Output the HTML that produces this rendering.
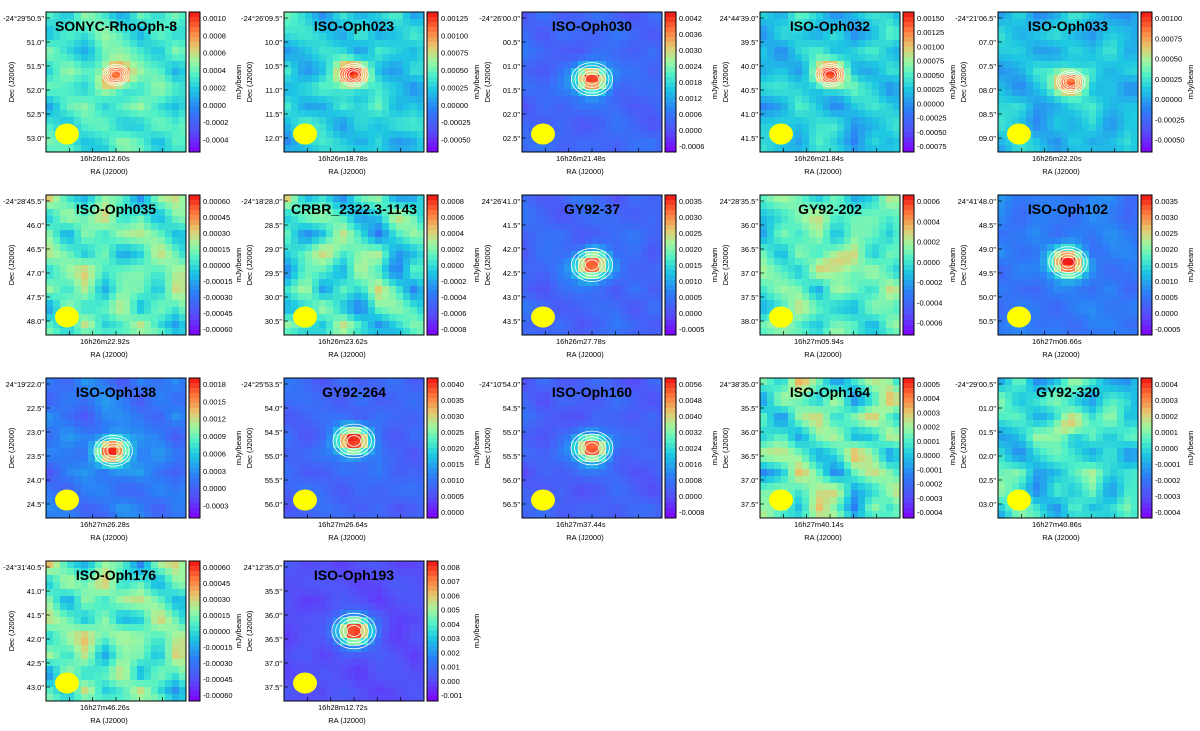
<!DOCTYPE html>
<html><head><meta charset="utf-8"><style>
body{margin:0;background:#fff;width:1200px;height:726px;overflow:hidden;font-family:"Liberation Sans",sans-serif}
svg text{font-family:"Liberation Sans",sans-serif}
</style></head><body>
<svg id="fig" width="1200" height="726" xmlns="http://www.w3.org/2000/svg"></svg>
<script>
const names=["SONYC-RhoOph-8","ISO-Oph023","ISO-Oph030","ISO-Oph032","ISO-Oph033","ISO-Oph035","CRBR_2322.3-1143","GY92-37","GY92-202","ISO-Oph102","ISO-Oph138","GY92-264","ISO-Oph160","ISO-Oph164","GY92-320","ISO-Oph176","ISO-Oph193"];
const raLabels=["16h26m12.60s","16h26m18.78s","16h26m21.48s","16h26m21.84s","16h26m22.20s","16h26m22.92s","16h26m23.62s","16h26m27.78s","16h27m05.94s","16h27m06.66s","16h27m26.28s","16h27m26.64s","16h27m37.44s","16h27m40.14s","16h27m40.86s","16h27m46.26s","16h28m12.72s"];
const decLabels=[
["-24°29'50.5\"","51.0\"","51.5\"","52.0\"","52.5\"","53.0\""],
["-24°26'09.5\"","10.0\"","10.5\"","11.0\"","11.5\"","12.0\""],
["-24°26'00.0\"","00.5\"","01.0\"","01.5\"","02.0\"","02.5\""],
["24°44'39.0\"","39.5\"","40.0\"","40.5\"","41.0\"","41.5\""],
["-24°21'06.5\"","07.0\"","07.5\"","08.0\"","08.5\"","09.0\""],
["-24°28'45.5\"","46.0\"","46.5\"","47.0\"","47.5\"","48.0\""],
["-24°18'28.0\"","28.5\"","29.0\"","29.5\"","30.0\"","30.5\""],
["24°26'41.0\"","41.5\"","42.0\"","42.5\"","43.0\"","43.5\""],
["24°28'35.5\"","36.0\"","36.5\"","37.0\"","37.5\"","38.0\""],
["24°41'48.0\"","48.5\"","49.0\"","49.5\"","50.0\"","50.5\""],
["24°19'22.0\"","22.5\"","23.0\"","23.5\"","24.0\"","24.5\""],
["-24°25'53.5\"","54.0\"","54.5\"","55.0\"","55.5\"","56.0\""],
["-24°10'54.0\"","54.5\"","55.0\"","55.5\"","56.0\"","56.5\""],
["24°38'35.0\"","35.5\"","36.0\"","36.5\"","37.0\"","37.5\""],
["-24°29'00.5\"","01.0\"","01.5\"","02.0\"","02.5\"","03.0\""],
["-24°31'40.5\"","41.0\"","41.5\"","42.0\"","42.5\"","43.0\""],
["24°12'35.0\"","35.5\"","36.0\"","36.5\"","37.0\"","37.5\""]];
const cbTicks=[
["0.0010","0.0008","0.0006","0.0004","0.0002","0.0000","-0.0002","-0.0004"],
["0.00125","0.00100","0.00075","0.00050","0.00025","0.00000","-0.00025","-0.00050"],
["0.0042","0.0036","0.0030","0.0024","0.0018","0.0012","0.0006","0.0000","-0.0006"],
["0.00150","0.00125","0.00100","0.00075","0.00050","0.00025","0.00000","-0.00025","-0.00050","-0.00075"],
["0.00100","0.00075","0.00050","0.00025","0.00000","-0.00025","-0.00050"],
["0.00060","0.00045","0.00030","0.00015","0.00000","-0.00015","-0.00030","-0.00045","-0.00060"],
["0.0008","0.0006","0.0004","0.0002","0.0000","-0.0002","-0.0004","-0.0006","-0.0008"],
["0.0035","0.0030","0.0025","0.0020","0.0015","0.0010","0.0005","0.0000","-0.0005"],
["0.0006","0.0004","0.0002","0.0000","-0.0002","-0.0004","-0.0006"],
["0.0035","0.0030","0.0025","0.0020","0.0015","0.0010","0.0005","0.0000","-0.0005"],
["0.0018","0.0015","0.0012","0.0009","0.0006","0.0003","0.0000","-0.0003"],
["0.0040","0.0035","0.0030","0.0025","0.0020","0.0015","0.0010","0.0005","0.0000"],
["0.0056","0.0048","0.0040","0.0032","0.0024","0.0016","0.0008","0.0000","-0.0008"],
["0.0005","0.0004","0.0003","0.0002","0.0001","0.0000","-0.0001","-0.0002","-0.0003","-0.0004"],
["0.0004","0.0003","0.0002","0.0001","0.0000","-0.0001","-0.0002","-0.0003","-0.0004"],
["0.00060","0.00045","0.00030","0.00015","0.00000","-0.00015","-0.00030","-0.00045","-0.00060"],
["0.008","0.007","0.006","0.005","0.004","0.003","0.002","0.001","0.000","-0.001"]];
const bgLevel=[0.52,0.45,0.22,0.44,0.42,0.55,0.5,0.22,0.55,0.28,0.27,0.22,0.2,0.55,0.48,0.55,0.15];
const noiseAmp=[0.12,0.12,0.06,0.12,0.1,0.18,0.2,0.06,0.15,0.06,0.09,0.06,0.06,0.22,0.16,0.2,0.04];
const srcPeak=[0.45,0.5,0.78,0.5,0.5,0,0.15,0.78,0.2,0.72,0.72,0.8,0.8,0,0.25,0.1,0.85];
const srcX=[0.5,0.5,0.5,0.5,0.52,0.5,0.3,0.5,0.55,0.5,0.48,0.5,0.5,0.5,0.5,0.52,0.5];
const srcY=[0.45,0.45,0.48,0.45,0.5,0.5,0.4,0.5,0.5,0.48,0.52,0.45,0.5,0.5,0.35,0.5,0.5];
const noise=[
[0.2,-0.5,0.8,0.1,-0.9,0.4,-0.2,0.6,-0.7,0.3],
[-0.6,0.3,-0.1,0.9,0.2,-0.8,0.5,-0.3,0.1,0.7],
[0.7,-0.2,-0.9,0.4,0.6,0.1,-0.6,0.8,-0.4,-0.1],
[-0.3,0.9,0.2,-0.7,-0.1,0.5,0.3,-0.9,0.6,0.2],
[0.5,0.1,-0.4,0.6,-0.8,-0.2,0.9,0.2,-0.5,-0.7],
[-0.9,0.4,0.7,-0.3,0.3,0.8,-0.1,-0.6,0.4,0.1],
[0.1,-0.7,0.3,0.5,-0.5,-0.4,0.6,0.1,0.9,-0.3],
[0.6,0.2,-0.6,-0.2,0.9,0.3,-0.8,0.4,-0.2,0.5],
[-0.4,0.8,0.1,-0.9,0.1,0.6,0.2,-0.5,0.3,-0.8],
[0.3,-0.1,0.5,0.7,-0.6,-0.3,0.4,0.9,-0.1,0.2]];
const stops=[[0,[128,0,255]],[0.15,[84,80,248]],[0.3,[44,126,246]],[0.45,[30,200,226]],[0.55,[80,240,200]],[0.65,[160,246,160]],[0.75,[230,200,110]],[0.87,[255,120,60]],[1,[240,20,20]]];
function cmap(v){v=Math.max(0,Math.min(1,v));for(let i=1;i<stops.length;i++){if(v<=stops[i][0]){const a=stops[i-1],b=stops[i],t=(v-a[0])/(b[0]-a[0]);return`rgb(${a[1].map((c,k)=>Math.round(c+(b[1][k]-c)*t)).join(',')})`;}}return'rgb(240,20,20)';}
function nz(u,v){const i0=Math.floor(u),j0=Math.floor(v),fu=u-i0,fv=v-j0;const g=(i,j)=>noise[((i%10)+10)%10][((j%10)+10)%10];
 return (g(i0,j0)*(1-fv)+g(i0,j0+1)*fv)*(1-fu)+(g(i0+1,j0)*(1-fv)+g(i0+1,j0+1)*fv)*fu;}
const NS="http://www.w3.org/2000/svg",svg=document.getElementById('fig');
function el(t,a,p){const e=document.createElementNS(NS,t);for(const k in a)e.setAttribute(k,a[k]);(p||svg).appendChild(e);return e;}
const W=140,H=140,N=20,cs=W/N;
names.forEach((nm,idx)=>{
const col=idx%5,row=Math.floor(idx/5);
const x0=46+col*238,y0=12+row*183;
const g=el('g',{});


const img=el('g',{},g);


for(let i=0;i<N;i++)for(let j=0;j<N;j++){
 const fx=(j+0.5)/N,fy=(i+0.5)/N;
 const d2=((fx-srcX[idx])/0.085)**2+((fy-srcY[idx])/0.07)**2;
 const v=bgLevel[idx]+noiseAmp[idx]*1.3*nz(i/2.6+idx,j/2.6+idx*3)+srcPeak[idx]*Math.exp(-d2/2);
 const r=el('rect',{x:x0+j*cs,y:y0+i*cs,width:cs+0.3,height:cs+0.3,fill:cmap(v)},img);
 
 
}
if(srcPeak[idx]>0.3){const cx=x0+srcX[idx]*W,cy=y0+srcY[idx]*H;
 for(let k=1;k<=5;k++){const c=el('ellipse',{cx:cx,cy:cy,rx:3+k*4.5*srcPeak[idx],ry:2.5+k*3.6*srcPeak[idx],fill:'none',stroke:'#fff','stroke-width':0.8},g);
 }}
const beam=el('ellipse',{cx:x0+21,cy:y0+122,rx:12,ry:10.5,fill:'#ffff00'},g);

el('rect',{x:x0,y:y0,width:W,height:H,fill:'none',stroke:'#000','stroke-width':1},g);
const t=el('text',{x:x0+W/2,y:y0+19,'text-anchor':'middle','font-size':14,'font-weight':'bold',fill:'#000'},g);t.textContent=nm;

decLabels[idx].forEach((s,k)=>{const yy=y0+6+k*24;el('line',{x1:x0,x2:x0+4,y1:yy,y2:yy,stroke:'#000','stroke-width':0.7},g);
 const tt=el('text',{x:x0-2,y:yy+3,'text-anchor':'end','font-size':7.5,fill:'#000'},g);tt.textContent=s;
 });
for(let k=1;k<6;k++){const xx=x0+k*W/6;el('line',{x1:xx,x2:xx,y1:y0+H,y2:y0+H-4,stroke:'#000','stroke-width':0.7},g);}
const ra=el('text',{x:x0+W*0.42,y:y0+H+9,'text-anchor':'middle','font-size':7.5,fill:'#000'},g);ra.textContent=raLabels[idx];

const rx=el('text',{x:x0+W*0.45,y:y0+H+22,'text-anchor':'middle','font-size':7.5,fill:'#000'},g);rx.textContent='RA (J2000)';

const dy=el('text',{x:0,y:0,'text-anchor':'middle','font-size':7.5,fill:'#000',transform:`translate(${x0-32},${y0+H/2}) rotate(-90)`},g);dy.textContent='Dec (J2000)';

const cbx=x0+143;
for(let k=0;k<28;k++){const c=el('rect',{x:cbx,y:y0+k*5,width:11,height:5.3,fill:cmap(1-(k+0.5)/28)},g);
 }
el('rect',{x:cbx,y:y0,width:11,height:H,fill:'none',stroke:'#000','stroke-width':1},g);
const tk=cbTicks[idx],n=tk.length;
tk.forEach((s,k)=>{const yy=y0+6+k*(H-12)/(n-1)*(n>8?1:0.95);
 const tt=el('text',{x:cbx+14,y:yy+3,'font-size':7.5,fill:'#000'},g);tt.textContent=s;
 });
const ub=el('text',{x:0,y:0,'text-anchor':'middle','font-size':7.5,fill:'#000',transform:`translate(${cbx+52},${y0+H/2}) rotate(-90)`},g);ub.textContent='mJy/beam';

});
</script>
</body></html>
